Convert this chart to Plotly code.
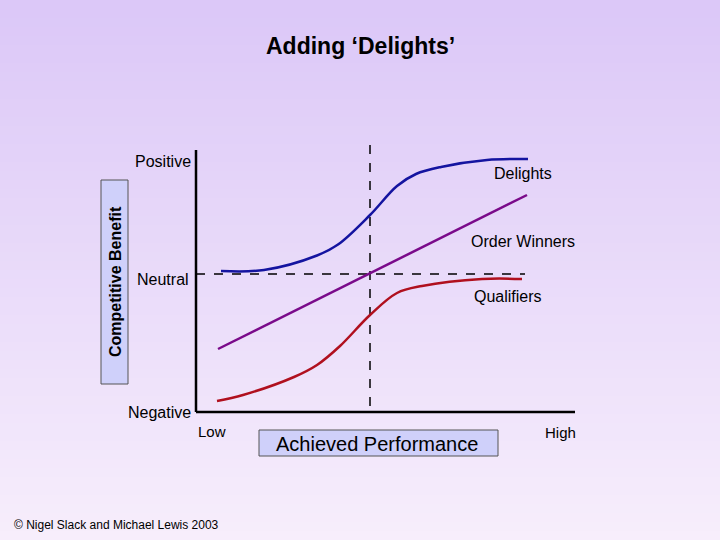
import plotly.graph_objects as go

# Data (chart units: x = achieved performance, y = competitive benefit, screen-like scale)
delights_x = [221, 264, 317, 338, 370, 397, 416, 441, 487, 528]
delights_y = [271, 270, 255.5, 244.5, 215, 186, 174, 167, 160, 159]
winners_x = [218, 527]
winners_y = [349, 195]
qual_x = [217, 243, 294, 317, 340, 370, 397, 422, 482, 522]
qual_y = [401, 395, 377, 365, 346, 315, 293, 286, 279, 279]
neutral_x = [196, 525]
neutral_y = [274, 274]
mid_x = [370, 370]
mid_y = [145, 412]

L, R, T, B = 196, 575, 140, 412
W, H = 720, 540

def px(x): return (x - L) / (R - L)
def py(y): return (B - y) / (B - T)

fig = go.Figure()
fig.add_trace(go.Scatter(x=neutral_x, y=neutral_y, mode="lines", line=dict(color="black", width=1.5, dash="dash")))
fig.add_trace(go.Scatter(x=mid_x, y=mid_y, mode="lines", line=dict(color="black", width=1.5, dash="dash")))
fig.add_trace(go.Scatter(x=winners_x, y=winners_y, mode="lines", line=dict(color="#7a0a8a", width=2.5)))
fig.add_trace(go.Scatter(x=delights_x, y=delights_y, mode="lines", line=dict(color="#1414a0", width=2.5, shape="spline")))
fig.add_trace(go.Scatter(x=qual_x, y=qual_y, mode="lines", line=dict(color="#b0101e", width=2.5, shape="spline")))

shapes = []
n = 60
top = (220, 200, 248); bot = (247, 238, 252)
for i in range(n):
    f = i / (n - 1)
    c = tuple(int(top[k] + (bot[k] - top[k]) * f) for k in range(3))
    y0 = i * H / n; y1 = (i + 1) * H / n + 1
    shapes.append(dict(type="rect", xref="paper", yref="paper", layer="below",
                       x0=px(0), x1=px(W), y0=py(y1), y1=py(y0),
                       fillcolor="rgb(%d,%d,%d)" % c, line=dict(width=0)))
# axes
shapes.append(dict(type="line", xref="paper", yref="paper", x0=0, x1=0, y0=0, y1=py(150), line=dict(color="black", width=2.5)))
shapes.append(dict(type="line", xref="paper", yref="paper", x0=0, x1=1, y0=0, y1=0, line=dict(color="black", width=2.5)))
# boxes
shapes.append(dict(type="rect", xref="paper", yref="paper", x0=px(101), x1=px(128), y0=py(384), y1=py(180),
                   fillcolor="#cfd0fa", line=dict(color="#555", width=1)))
shapes.append(dict(type="rect", xref="paper", yref="paper", x0=px(259), x1=px(498), y0=py(456), y1=py(430),
                   fillcolor="#cfd0fa", line=dict(color="#555", width=1)))

F = "Arial, Liberation Sans"
def ann(text, x, y, size=14, xa="center", bold=False, angle=0):
    return dict(text=("<b>%s</b>" % text) if bold else text, xref="paper", yref="paper", x=px(x), y=py(y),
                xanchor=xa, yanchor="middle", showarrow=False, textangle=angle,
                font=dict(family=F, size=size, color="black"))

anns = [
    ann("Adding ‘Delights’", 360, 46, 23, bold=True),
    ann("Positive", 193, 161, 16, "right"),
    ann("Neutral", 191, 279, 16, "right"),
    ann("Negative", 193, 412, 16, "right"),
    ann("Low", 212, 431, 15),
    ann("High", 560, 432, 15),
    ann("Delights", 523, 173, 16),
    ann("Order Winners", 523, 241, 16),
    ann("Qualifiers", 508, 296, 16),
    ann("Competitive Benefit", 115, 282, 16, bold=True, angle=-90),
    ann("Achieved Performance", 377, 444, 20),
    ann("© Nigel Slack and Michael Lewis 2003", 12, 525, 12, "left"),
]

fig.update_layout(width=W, height=H, margin=dict(l=L, r=W - R, t=T, b=H - B),
                  paper_bgcolor="#eadcf8", plot_bgcolor="rgba(0,0,0,0)", showlegend=False,
                  shapes=shapes, annotations=anns,
                  xaxis=dict(range=[L, R], visible=False, fixedrange=True),
                  yaxis=dict(range=[B, T], visible=False, fixedrange=True))
fig.write_html("out.html", config={"displayModeBar": False},
               post_script="document.body.style.margin='0';document.body.style.overflow='hidden';")
